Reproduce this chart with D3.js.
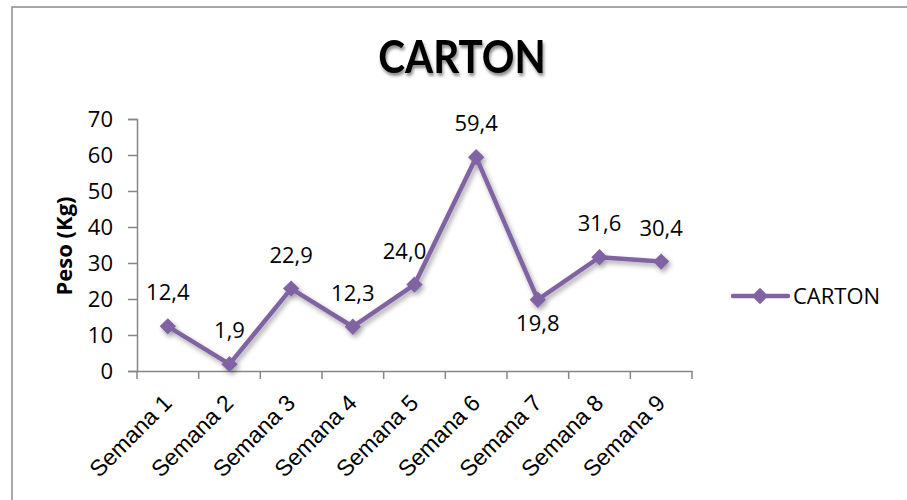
<!DOCTYPE html>
<html>
<head>
<meta charset="utf-8">
<title>CARTON</title>
<style>
  html, body {margin: 0; padding: 0; background: #fff; overflow: hidden;}
  svg {display: block; font-family: "Open Sans", sans-serif;}
</style>
</head>
<body>
<div id="chart"></div>
<script src="https://cdn.jsdelivr.net/npm/d3@7"></script>
<script>
// data
var weeks = ["Semana 1", "Semana 2", "Semana 3", "Semana 4", "Semana 5", "Semana 6", "Semana 7", "Semana 8", "Semana 9"];
var weights = [12.4, 1.9, 22.9, 12.3, 24.0, 59.4, 19.8, 31.6, 30.4];
var yTicks = [0, 10, 20, 30, 40, 50, 60, 70];
var seriesName = "CARTON";
var color = "#8064A2";

var width = 907, height = 500;
var plot = {left: 137, right: 692, top: 119, bottom: 371};
var fontSize = 22;

var svg = d3.select("#chart").append("svg")
    .attr("width", width)
    .attr("height", height);

var defs = svg.append("defs");
var sh = defs.append("filter").attr("id", "shadow")
    .attr("x", "-20%").attr("y", "-20%").attr("width", "140%").attr("height", "140%");
sh.append("feDropShadow").attr("dx", 2).attr("dy", 3).attr("stdDeviation", 2.5)
    .attr("flood-color", "#000").attr("flood-opacity", 0.35);
var tsh = defs.append("filter").attr("id", "tshadow")
    .attr("x", "-10%").attr("y", "-20%").attr("width", "120%").attr("height", "160%");
tsh.append("feDropShadow").attr("dx", 1.5).attr("dy", 3).attr("stdDeviation", 1.8)
    .attr("flood-color", "#000").attr("flood-opacity", 0.45);

// chart border
svg.append("rect")
    .attr("x", 12).attr("y", 7)
    .attr("width", width).attr("height", height)
    .attr("fill", "none").attr("stroke", "#8c8c8c").attr("stroke-width", 1.5);

// title (squeezed a little to get the narrow bold look)
svg.append("text")
    .attr("transform", "translate(462,73) scale(0.88,1)")
    .attr("text-anchor", "middle")
    .attr("font-family", "Lato, sans-serif")
    .attr("font-size", 46).attr("font-weight", "bold")
    .attr("filter", "url(#tshadow)")
    .text("CARTON");

var x = d3.scaleBand().domain(weeks).range([plot.left, plot.right]);
var y = d3.scaleLinear().domain([0, 70]).range([plot.bottom, plot.top]);

// y axis
var yAxis = svg.append("g")
    .attr("transform", "translate(" + plot.left + ",0)")
    .call(d3.axisLeft(y).tickValues(yTicks).tickSize(9).tickPadding(15).tickFormat(d3.format("d")));
yAxis.select(".domain").attr("stroke", "#868686").attr("stroke-width", 1.5);
yAxis.selectAll(".tick line").attr("stroke", "#868686").attr("stroke-width", 1.5);
yAxis.selectAll(".tick text").attr("font-size", fontSize).attr("fill", "#000")
    .attr("font-family", "'Open Sans', sans-serif");

// x axis
var xAxis = svg.append("g")
    .attr("transform", "translate(0," + plot.bottom + ")")
    .call(d3.axisBottom(x).tickSizeOuter(0).tickSize(0));
xAxis.select(".domain").attr("stroke", "#868686").attr("stroke-width", 1.5);
xAxis.selectAll(".tick text").remove();
var edges = weeks.map(function(w) { return x(w); }).concat([plot.right]);
xAxis.selectAll(".edge").data(edges).enter().append("line")
    .attr("x1", function(d) { return d; }).attr("x2", function(d) { return d; })
    .attr("y1", 0).attr("y2", 8)
    .attr("stroke", "#868686").attr("stroke-width", 1.5);
xAxis.selectAll(".lbl").data(weeks).enter().append("text")
    .attr("transform", function(d) { return "translate(" + (x(d) + x.bandwidth() / 2 - 6) + ",22) rotate(-45)"; })
    .attr("text-anchor", "end")
    .attr("dy", "0.7em")
    .attr("font-size", fontSize + 1)
    .attr("fill", "#000")
    .text(function(d) { return d; });

// y axis title
svg.append("text")
    .attr("transform", "translate(72,246) rotate(-90)")
    .attr("text-anchor", "middle")
    .attr("font-size", fontSize).attr("font-weight", "bold")
    .text("Peso (Kg)");

// line
var cx = function(d, i) { return x(weeks[i]) + x.bandwidth() / 2; };
var line = d3.line().x(cx).y(function(d) { return y(d); });
var series = svg.append("g").attr("filter", "url(#shadow)");
series.append("path")
    .datum(weights)
    .attr("d", line)
    .attr("fill", "none")
    .attr("stroke", color)
    .attr("stroke-width", 4.5)
    .attr("stroke-linejoin", "round");
var diamond = d3.symbol().type(d3.symbolDiamond2).size(170);
series.selectAll(".pt").data(weights).enter().append("path")
    .attr("d", diamond)
    .attr("transform", function(d, i) { return "translate(" + cx(d, i) + "," + y(d) + ")"; })
    .attr("fill", color);

// data labels (Semana 7 sits below its point, Semana 5 nudged left of the line)
var fmt = function(v) { return v.toFixed(1).replace(".", ","); };
svg.selectAll(".dl").data(weights).enter().append("text")
    .attr("x", function(d, i) { return cx(d, i) + (i === 4 ? -10 : 0); })
    .attr("y", function(d, i) { return i === 6 ? y(d) + 31 : y(d) - 26; })
    .attr("text-anchor", "middle")
    .attr("font-size", fontSize)
    .text(fmt);

// legend
var lg = svg.append("g").attr("transform", "translate(733,296)");
lg.append("line").attr("x1", 0).attr("x2", 55).attr("y1", 0).attr("y2", 0)
    .attr("stroke", color).attr("stroke-width", 4.5).attr("stroke-linecap", "round");
lg.append("path").attr("d", diamond).attr("transform", "translate(27,0)").attr("fill", color);
lg.append("text").attr("x", 60).attr("y", 8).attr("font-size", fontSize).text(seriesName);
</script>
</body>
</html>
